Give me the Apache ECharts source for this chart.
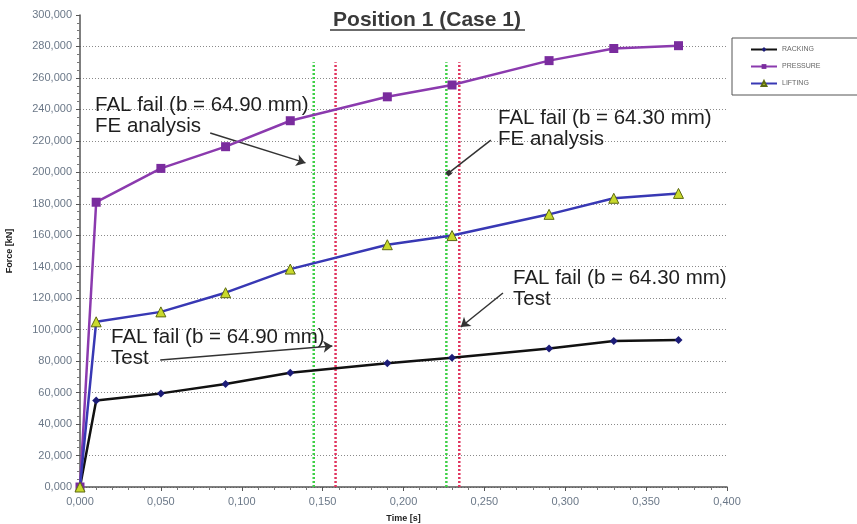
<!DOCTYPE html>
<html>
<head>
<meta charset="utf-8">
<title>Position 1 (Case 1)</title>
<script src="https://cdn.jsdelivr.net/npm/echarts@6/dist/echarts.min.js"></script>
<style>
  html, body { margin: 0; padding: 0; background: #fff; }
  #main { width: 857px; height: 524px; }
</style>
</head>
<body>
<div id="main"></div>
<script>
// time steps [s]
const times = [0, 0.01, 0.05, 0.09, 0.13, 0.19, 0.23, 0.29, 0.33, 0.37];
// force [kN]
const racking = [0, 55, 59.5, 65.5, 72.6, 78.6, 82.2, 88.1, 92.8, 93.4];
const pressure = [0, 181, 202.5, 216.3, 232.8, 248, 255.5, 271, 278.7, 280.5];
const lifting = [0, 105, 111.3, 123.5, 138.5, 154, 159.8, 173.3, 183.5, 186.6];

// FAL fail markers: time [s], top of the line [kN]
const feFail = [0.1445, 0.2265];   // green, FE analysis
const testFail = [0.158, 0.2345];  // red, Test
const failTop = 270;

// annotation arrows in data space: [from, to, end symbol]
const arrows = [
  [[0.0805, 225], [0.1394, 206], 'arrow'],
  [[0.254, 220.5], [0.228, 199.6], 'rect'],
  [[0.2615, 123.3], [0.2354, 101.7], 'arrow'],
  [[0.0496, 80.7], [0.156, 89.6], 'arrow']
];

const yTicks = { min: 0, max: 300, step: 20 };
const xTicks = { min: 0, max: 0.4, step: 0.05 };

const chart = echarts.init(document.getElementById('main'), null, { renderer: 'canvas' });

function fmt(v) {
  return v.toFixed(3).replace('.', ',');
}

function pairs(ys) {
  return times.map((t, i) => [t, ys[i]]);
}

function vLine(x, color) {
  return {
    type: 'line',
    data: [[x, 0], [x, failTop]],
    symbol: 'none',
    silent: true,
    z: 4,
    lineStyle: { color: color, width: 2.5, type: [2, 2] }
  };
}

const font = '"Liberation Sans", Arial, sans-serif';

function note(text, left, top) {
  return {
    type: 'text',
    left: left,
    top: top,
    z: 100,
    style: {
      text: text,
      font: '20.5px ' + font,
      fill: '#1e1e1e',
      lineHeight: 21
    }
  };
}

chart.setOption({
  animation: false,
  backgroundColor: '#fff',
  textStyle: { fontFamily: font },
  grid: { left: 80, right: 130, top: 15, bottom: 37, outerBoundsMode: 'none' },
  legend: {
    data: ['RACKING', 'PRESSURE', 'LIFTING'],
    orient: 'vertical',
    left: 732,
    top: 38,
    padding: [8, 40, 8, 18],
    itemGap: 10,
    itemWidth: 26,
    itemHeight: 6,
    borderColor: '#555',
    borderWidth: 1,
    backgroundColor: '#fff',
    textStyle: { fontSize: 7, color: '#666' }
  },
  xAxis: {
    type: 'value',
    min: xTicks.min,
    max: xTicks.max,
    interval: xTicks.step,
    name: 'Time [s]',
    nameLocation: 'middle',
    nameGap: 27,
    nameTextStyle: { fontSize: 9, fontWeight: 'bold', color: '#222' },
    axisLine: { lineStyle: { color: '#555', width: 1.5 } },
    axisTick: { length: 4, lineStyle: { color: '#555' } },
    minorTick: { show: true, splitNumber: 5, length: 3, lineStyle: { color: '#777' } },
    splitLine: { show: false },
    axisLabel: { fontSize: 11, color: '#6b7888', margin: 9, formatter: fmt }
  },
  yAxis: {
    type: 'value',
    min: yTicks.min,
    max: yTicks.max,
    interval: yTicks.step,
    name: 'Force [kN]',
    nameLocation: 'middle',
    nameGap: 66,
    nameTextStyle: { fontSize: 9, fontWeight: 'bold', color: '#222' },
    axisLine: { show: true, lineStyle: { color: '#555', width: 1.5 } },
    axisTick: { show: true, length: 4, lineStyle: { color: '#555' } },
    minorTick: { show: true, splitNumber: 4, length: 3, lineStyle: { color: '#777' } },
    splitLine: {
      show: true,
      showMaxLine: false,
      lineStyle: { color: '#8a8a8a', width: 1, type: [1, 2] }
    },
    axisLabel: { fontSize: 11, color: '#6b7888', margin: 8, formatter: fmt }
  },
  series: [
    {
      name: 'RACKING',
      type: 'line',
      data: pairs(racking),
      symbol: 'diamond',
      symbolSize: 8,
      z: 6,
      itemStyle: { color: '#1c1c78' },
      lineStyle: { color: '#111', width: 2.5 },
      markLine: {
        silent: true,
        label: { show: false },
        lineStyle: { color: '#333', width: 1.5, type: 'solid' },
        symbolSize: 8,
        data: arrows.map(a => [
          { coord: a[0], symbol: 'none' },
          { coord: a[1], symbol: a[2], symbolSize: a[2] === 'rect' ? 5 : 9 }
        ])
      }
    },
    {
      name: 'PRESSURE',
      type: 'line',
      data: pairs(pressure),
      symbol: 'rect',
      symbolSize: 9,
      z: 6,
      itemStyle: { color: '#7a2c9e' },
      lineStyle: { color: '#8b3aae', width: 2.5 }
    },
    {
      name: 'LIFTING',
      type: 'line',
      data: pairs(lifting),
      symbol: 'triangle',
      symbolSize: 10,
      z: 6,
      itemStyle: { color: '#c9d92c', borderColor: '#5d6a12', borderWidth: 1 },
      lineStyle: { color: '#3838b4', width: 2.5 }
    },
    vLine(feFail[0], '#3fcf47'),
    vLine(testFail[0], '#e0335e'),
    vLine(feFail[1], '#3fcf47'),
    vLine(testFail[1], '#e0335e')
  ],
  graphic: [
    {
      type: 'text',
      x: 427,
      y: 20,
      z: 100,
      style: {
        text: 'Position 1 (Case 1)',
        font: 'bold 21px ' + font,
        fill: '#3a3a3a',
        textAlign: 'center',
        textVerticalAlign: 'middle'
      }
    },
    {
      type: 'line',
      z: 100,
      shape: { x1: 330, y1: 30, x2: 525, y2: 30 },
      style: { stroke: '#3a3a3a', lineWidth: 1.3 }
    },
    note('FAL fail (b = 64.90 mm)\nFE analysis', 95, 95),
    note('FAL fail (b = 64.30 mm)\nFE analysis', 498, 108),
    note('FAL fail (b = 64.30 mm)\nTest', 513, 268),
    note('FAL fail (b = 64.90 mm)\nTest', 111, 327)
  ]
});
</script>
</body>
</html>
